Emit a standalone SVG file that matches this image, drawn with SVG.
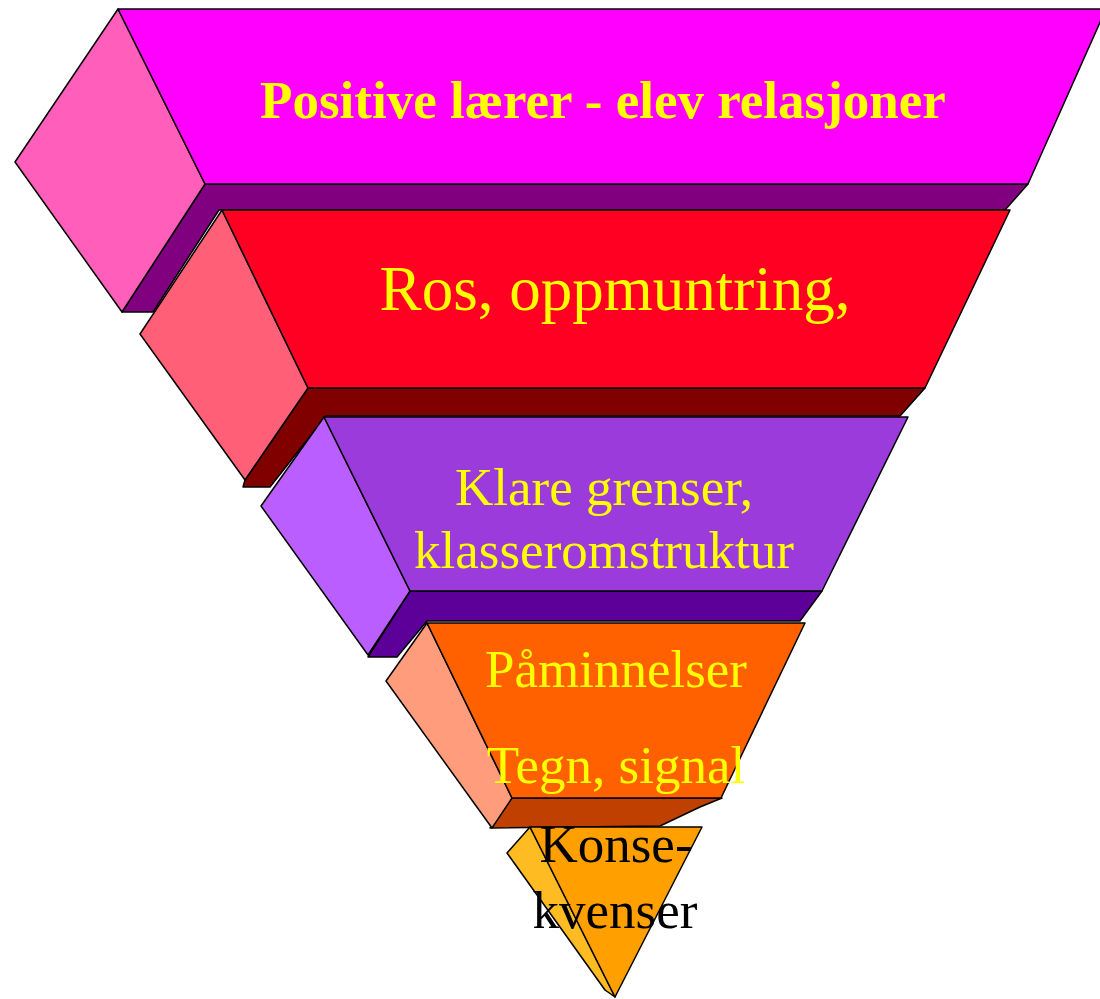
<svg xmlns="http://www.w3.org/2000/svg" width="1100" height="999" viewBox="0 0 1100 999">
<style>
.e{stroke:#000;stroke-width:1.5;stroke-linejoin:round}
.t{font-family:"Liberation Serif","Times New Roman",serif;fill:#FFFF00;text-anchor:middle;font-size:53px}
.b{font-weight:bold}
.k{fill:#000}
</style>
<rect width="1100" height="999" fill="#fff"/>
<g id="tier1">
<polygon class="e" fill="#800080" points="205,184 1028,184 1005,210 219,210 153,312 122,312"/>
<polygon class="e" fill="#FF5FBB" points="118,9 15,162 122,312 205,184"/>
<polygon class="e" fill="#FF00FF" points="118,9 1106,9 1028,184 205,184"/>
<text class="t b" x="603" y="118">Positive lærer - elev relasjoner</text>
</g>
<g id="tier2">
<polygon class="e" fill="#800000" points="308,388 925,388 900,416 326,416 270,487 243,487 245,480"/>
<polygon class="e" fill="#FF6078" points="222,210 140,334 245,480 308,388"/>
<polygon class="e" fill="#FF0022" points="222,210 1010,210 925,388 308,388"/>
<text class="t" x="615" y="310" style="font-size:63px">Ros, oppmuntring,</text>
</g>
<g id="tier3">
<polygon class="e" fill="#5C0099" points="410,591 822,591 800,621 427,621 397,657 368,657"/>
<polygon class="e" fill="#BB5EFF" points="324,417 261,506 368,655 410,591"/>
<polygon class="e" fill="#9B3BDB" points="324,417 908,417 822,591 410,591"/>
<text class="t" x="604" y="505">Klare grenser,</text>
<text class="t" x="604" y="568">klasseromstruktur</text>
</g>
<g id="tier4">
<polygon class="e" fill="#BF4000" points="512,798 722,798 700,807 660,826 490,828"/>
<polygon class="e" fill="#FF9C7C" points="427,623 386,681 492,828 512,798"/>
<polygon class="e" fill="#FF6000" points="427,623 805,623 721,798 512,798"/>
<text class="t" x="616" y="687">Påminnelser</text>
<text class="t" x="616" y="783">Tegn, signal</text>
</g>
<g id="tier5">
<polygon class="e" fill="#FFBB22" points="530,827 507,853 605,990 615,997"/>
<polygon class="e" fill="#FFA000" points="530,827 702,827 615,997"/>
<text class="t k" x="616" y="862">Konse-</text>
<text class="t k" x="615" y="928">kvenser</text>
</g>
<g id="connectors"/>
</svg>
